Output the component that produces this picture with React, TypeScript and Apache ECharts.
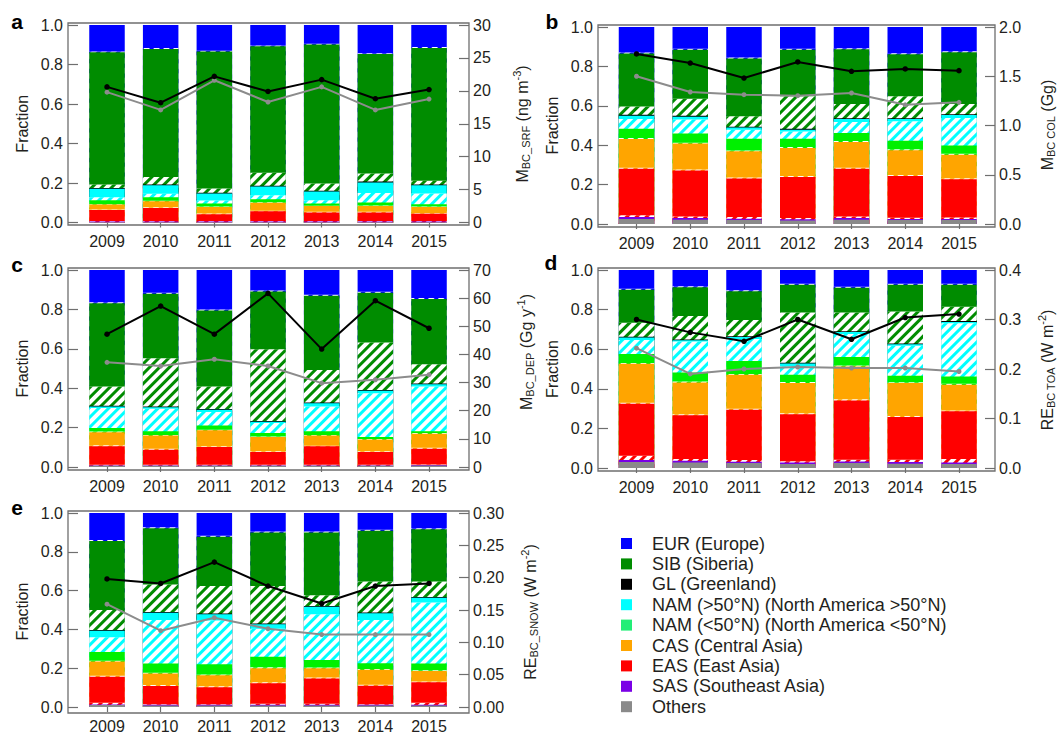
import React, { useEffect, useRef } from 'react';
import * as echarts from 'echarts';

const YEARS = ['2009', '2010', '2011', '2012', '2013', '2014', '2015'];

// Cumulative upper edge (fraction) of every source layer, bottom to top.
// _F = hatched part of a source region.
// ---- panel a ----
const A_OTH = [0.003, 0.003, 0.003, 0.003, 0.003, 0.003, 0.003];
const A_SAS = [0.005, 0.005, 0.005, 0.005, 0.005, 0.005, 0.005];
const A_EAS_F = [0.008, 0.008, 0.008, 0.008, 0.008, 0.008, 0.008];
const A_EAS = [0.063, 0.074, 0.042, 0.057, 0.051, 0.051, 0.044];
const A_CAS_F = [0.066, 0.077, 0.045, 0.06, 0.054, 0.054, 0.047];
const A_CAS = [0.091, 0.108, 0.079, 0.1, 0.083, 0.084, 0.079];
const A_NAMS_F = [0.093, 0.11, 0.081, 0.102, 0.085, 0.086, 0.081];
const A_NAMS = [0.113, 0.128, 0.096, 0.118, 0.096, 0.101, 0.093];
const A_NAMN_F = [0.128, 0.145, 0.112, 0.138, 0.113, 0.15, 0.147];
const A_NAMN = [0.171, 0.189, 0.147, 0.182, 0.157, 0.203, 0.189];
const A_GL = [0.175, 0.193, 0.151, 0.186, 0.161, 0.207, 0.193];
const A_SIB_F = [0.193, 0.231, 0.172, 0.252, 0.198, 0.248, 0.211];
const A_SIB = [0.862, 0.879, 0.866, 0.892, 0.901, 0.853, 0.884];
const A_EUR_F = [0.866, 0.883, 0.87, 0.896, 0.905, 0.857, 0.888];
const A_EUR = [1, 1, 1, 1, 1, 1, 1];
const A_TOTAL = [20.6, 18.2, 22.2, 19.9, 21.7, 18.8, 20.2];
const A_GREY = [19.8, 17.1, 21.6, 18.3, 20.6, 17.1, 18.75];

// ---- panel b ----
const B_OTH = [0.025, 0.022, 0.02, 0.018, 0.022, 0.02, 0.02];
const B_SAS = [0.035, 0.03, 0.027, 0.024, 0.03, 0.026, 0.026];
const B_EAS_F = [0.045, 0.038, 0.035, 0.03, 0.038, 0.032, 0.033];
const B_EAS = [0.281, 0.272, 0.231, 0.239, 0.281, 0.244, 0.227];
const B_CAS_F = [0.286, 0.277, 0.236, 0.244, 0.286, 0.249, 0.232];
const B_CAS = [0.432, 0.408, 0.369, 0.386, 0.416, 0.374, 0.352];
const B_NAMS_F = [0.437, 0.413, 0.373, 0.391, 0.421, 0.379, 0.357];
const B_NAMS = [0.483, 0.459, 0.433, 0.433, 0.462, 0.423, 0.399];
const B_NAMN_F = [0.533, 0.53, 0.479, 0.47, 0.518, 0.521, 0.538];
const B_NAMN = [0.55, 0.545, 0.49, 0.479, 0.533, 0.533, 0.553];
const B_GL = [0.554, 0.549, 0.494, 0.483, 0.537, 0.537, 0.557];
const B_SIB_F = [0.597, 0.636, 0.547, 0.648, 0.609, 0.648, 0.609];
const B_SIB = [0.865, 0.884, 0.84, 0.885, 0.887, 0.862, 0.872];
const B_EUR_F = [0.87, 0.889, 0.845, 0.89, 0.892, 0.867, 0.877];
const B_EUR = [1, 1, 1, 1, 1, 1, 1];
const B_TOTAL = [1.726, 1.634, 1.482, 1.645, 1.55, 1.574, 1.557];
const B_GREY = [1.5, 1.34, 1.313, 1.303, 1.33, 1.21, 1.235];

// ---- panel c ----
const C_OTH = [0.006, 0.006, 0.006, 0.006, 0.006, 0.006, 0.008];
const C_SAS = [0.008, 0.008, 0.008, 0.008, 0.008, 0.008, 0.01];
const C_EAS_F = [0.011, 0.011, 0.011, 0.011, 0.011, 0.011, 0.013];
const C_EAS = [0.105, 0.088, 0.101, 0.076, 0.105, 0.076, 0.093];
const C_CAS_F = [0.11, 0.093, 0.105, 0.08, 0.108, 0.08, 0.098];
const C_CAS = [0.177, 0.16, 0.186, 0.152, 0.16, 0.139, 0.169];
const C_NAMS_F = [0.18, 0.163, 0.189, 0.155, 0.163, 0.142, 0.172];
const C_NAMS = [0.198, 0.181, 0.211, 0.172, 0.181, 0.152, 0.181];
const C_NAMN_F = [0.299, 0.296, 0.279, 0.223, 0.307, 0.375, 0.409];
const C_NAMN = [0.307, 0.303, 0.29, 0.23, 0.324, 0.387, 0.42];
const C_GL = [0.311, 0.307, 0.294, 0.234, 0.328, 0.391, 0.424];
const C_SIB_F = [0.409, 0.552, 0.409, 0.598, 0.493, 0.632, 0.522];
const C_SIB = [0.831, 0.879, 0.794, 0.891, 0.869, 0.884, 0.853];
const C_EUR_F = [0.836, 0.884, 0.799, 0.896, 0.874, 0.889, 0.858];
const C_EUR = [1, 1, 1, 1, 1, 1, 1];
const C_TOTAL = [47.2, 57.2, 47.2, 61.7, 41.9, 59.1, 49.3];
const C_GREY = [37.2, 35.9, 38.3, 35.9, 29.8, 31.0, 32.8];

// ---- panel d ----
const D_OTH = [0.03, 0.028, 0.025, 0.02, 0.025, 0.022, 0.02];
const D_SAS = [0.04, 0.036, 0.032, 0.028, 0.033, 0.03, 0.028];
const D_EAS_F = [0.062, 0.045, 0.04, 0.034, 0.042, 0.042, 0.045];
const D_EAS = [0.324, 0.266, 0.294, 0.271, 0.341, 0.257, 0.286];
const D_CAS_F = [0.33, 0.272, 0.299, 0.277, 0.347, 0.263, 0.291];
const D_CAS = [0.526, 0.432, 0.471, 0.429, 0.513, 0.429, 0.42];
const D_NAMS_F = [0.53, 0.437, 0.475, 0.434, 0.518, 0.433, 0.425];
const D_NAMS = [0.576, 0.482, 0.541, 0.471, 0.56, 0.466, 0.462];
const D_NAMN_F = [0.647, 0.639, 0.652, 0.513, 0.677, 0.617, 0.731];
const D_NAMN = [0.659, 0.645, 0.662, 0.528, 0.687, 0.625, 0.738];
const D_GL = [0.663, 0.649, 0.666, 0.532, 0.691, 0.629, 0.742];
const D_SIB_F = [0.734, 0.768, 0.748, 0.785, 0.785, 0.79, 0.815];
const D_SIB = [0.9, 0.913, 0.893, 0.925, 0.91, 0.925, 0.925];
const D_EUR_F = [0.905, 0.918, 0.898, 0.93, 0.915, 0.93, 0.93];
const D_EUR = [1, 1, 1, 1, 1, 1, 1];
const D_TOTAL = [0.3, 0.274, 0.256, 0.3, 0.26, 0.304, 0.311];
const D_GREY = [0.242, 0.19, 0.2, 0.204, 0.202, 0.202, 0.195];

// ---- panel e ----
const E_OTH = [0.01, 0.008, 0.008, 0.008, 0.008, 0.008, 0.008];
const E_SAS = [0.013, 0.011, 0.011, 0.011, 0.011, 0.011, 0.011];
const E_EAS_F = [0.022, 0.014, 0.014, 0.017, 0.017, 0.014, 0.022];
const E_EAS = [0.156, 0.108, 0.102, 0.122, 0.147, 0.11, 0.127];
const E_CAS_F = [0.161, 0.113, 0.107, 0.127, 0.152, 0.115, 0.132];
const E_CAS = [0.234, 0.173, 0.164, 0.2, 0.2, 0.192, 0.186];
const E_NAMS_F = [0.238, 0.177, 0.168, 0.205, 0.204, 0.196, 0.19];
const E_NAMS = [0.283, 0.224, 0.22, 0.259, 0.242, 0.225, 0.224];
const E_NAMN_F = [0.359, 0.449, 0.446, 0.403, 0.478, 0.449, 0.539];
const E_NAMN = [0.393, 0.486, 0.478, 0.427, 0.517, 0.483, 0.563];
const E_GL = [0.397, 0.49, 0.482, 0.431, 0.521, 0.487, 0.567];
const E_SIB_F = [0.5, 0.631, 0.624, 0.624, 0.576, 0.647, 0.647];
const E_SIB = [0.856, 0.921, 0.878, 0.899, 0.9, 0.909, 0.916];
const E_EUR_F = [0.861, 0.926, 0.883, 0.904, 0.905, 0.914, 0.921];
const E_EUR = [1, 1, 1, 1, 1, 1, 1];
const E_TOTAL = [0.198, 0.191, 0.224, 0.187, 0.16, 0.187, 0.191];
const E_GREY = [0.159, 0.118, 0.138, 0.121, 0.112, 0.112, 0.112];

// right axes (tick labels)
const RIGHT_MAX = [30, 2, 70, 0.4, 0.3];
const RIGHT_STEP = [5, 0.5, 10, 0.1, 0.05];
const RIGHT_DEC = [0, 1, 0, 1, 2];

const LEGEND_NAMES = [
  'EUR (Europe)',
  'SIB (Siberia)',
  'GL (Greenland)',
  'NAM (>50°N) (North America >50°N)',
  'NAM (<50°N) (North America <50°N)',
  'CAS (Central Asia)',
  'EAS (East Asia)',
  'SAS (Southeast Asia)',
  'Others',
];

// ---- styling ----
const FONT = '"Liberation Sans", Arial, Helvetica, sans-serif';
const TXT = '#231f20';
const FRAME = '#6f6f6f';
const BLUE = '#0000ff';
const GREEN = '#008c00';
const CYAN = '#00ffff';
const LIME = '#00f000';
const ORANGE = '#ffa500';
const RED = '#ff0000';
const PURPLE = '#7a00e6';
const GREY = '#8a8a8a';
const LEGEND_COLORS = [BLUE, GREEN, '#000000', CYAN, '#22ee77', ORANGE, RED, PURPLE, GREY];

// draw order: top layer first (tallest bar), lower layers painted over it
const LAYER_STYLE = [
  { color: BLUE, hatch: false },
  { color: BLUE, hatch: true },
  { color: GREEN, hatch: false },
  { color: GREEN, hatch: true },
  { color: '#000000', hatch: false },
  { color: CYAN, hatch: false },
  { color: CYAN, hatch: true },
  { color: LIME, hatch: false },
  { color: LIME, hatch: true },
  { color: ORANGE, hatch: false },
  { color: ORANGE, hatch: true },
  { color: RED, hatch: false },
  { color: RED, hatch: true },
  { color: PURPLE, hatch: false },
  { color: GREY, hatch: false },
];

const LAYERS = [
  [A_EUR, A_EUR_F, A_SIB, A_SIB_F, A_GL, A_NAMN, A_NAMN_F, A_NAMS, A_NAMS_F, A_CAS, A_CAS_F, A_EAS, A_EAS_F, A_SAS, A_OTH],
  [B_EUR, B_EUR_F, B_SIB, B_SIB_F, B_GL, B_NAMN, B_NAMN_F, B_NAMS, B_NAMS_F, B_CAS, B_CAS_F, B_EAS, B_EAS_F, B_SAS, B_OTH],
  [C_EUR, C_EUR_F, C_SIB, C_SIB_F, C_GL, C_NAMN, C_NAMN_F, C_NAMS, C_NAMS_F, C_CAS, C_CAS_F, C_EAS, C_EAS_F, C_SAS, C_OTH],
  [D_EUR, D_EUR_F, D_SIB, D_SIB_F, D_GL, D_NAMN, D_NAMN_F, D_NAMS, D_NAMS_F, D_CAS, D_CAS_F, D_EAS, D_EAS_F, D_SAS, D_OTH],
  [E_EUR, E_EUR_F, E_SIB, E_SIB_F, E_GL, E_NAMN, E_NAMN_F, E_NAMS, E_NAMS_F, E_CAS, E_CAS_F, E_EAS, E_EAS_F, E_SAS, E_OTH],
];
const TOTALS = [A_TOTAL, B_TOTAL, C_TOTAL, D_TOTAL, E_TOTAL];
const GREYS = [A_GREY, B_GREY, C_GREY, D_GREY, E_GREY];

const PANELS = [
  { id: 'a', fl: 68, fr: 469, ft: 23, fb: 225, y1: 25, y0: 222.5, c0: 107, step: 53.67, lx: 17, ly: 21, fx: 22, nx: 522, ny: 124,
    name: '{m|M}{s|BC_SRF}{m| (ng m}{p|-3}{m|)}' },
  { id: 'b', fl: 598, fr: 995, ft: 25, fb: 227, y1: 27, y0: 224, c0: 636.5, step: 53.75, lx: 552, ly: 21, fx: 552, nx: 1047, ny: 125,
    name: '{m|M}{s|BC COL}{m| (Gg)}' },
  { id: 'c', fl: 68, fr: 469, ft: 268, fb: 470, y1: 270, y0: 467, c0: 107, step: 53.67, lx: 17, ly: 264, fx: 22, nx: 526, ny: 352,
    name: '{m|M}{s|BC_DEP}{m| (Gg y}{p|-1}{m|)}' },
  { id: 'd', fl: 598, fr: 995, ft: 268, fb: 471, y1: 270, y0: 468, c0: 636.5, step: 53.75, lx: 551, ly: 262, fx: 552, nx: 1047, ny: 370,
    name: '{m|RE}{s|BC TOA}{m| (W m}{p|-2}{m|)}' },
  { id: 'e', fl: 68, fr: 469, ft: 511, fb: 713, y1: 513, y0: 710, c0: 107, step: 53.67, lx: 17, ly: 507, fx: 22, nx: 530, ny: 612,
    name: '{m|RE}{s|BC_SNOW}{m| (W m}{p|-2}{m|)}' },
];

const RICH = {
  m: { fontSize: 16, fontFamily: FONT, fill: TXT, lineHeight: 20, verticalAlign: 'middle' },
  s: { fontSize: 11, fontFamily: FONT, fill: TXT, lineHeight: 12, padding: [8, 0, 0, 0], verticalAlign: 'middle' },
  p: { fontSize: 11, fontFamily: FONT, fill: TXT, lineHeight: 12, padding: [0, 0, 10, 0], verticalAlign: 'middle' },
};

function buildOption() {
  const grid: any[] = [];
  const xAxis: any[] = [];
  const yAxis: any[] = [];
  const series: any[] = [];
  const graphic: any[] = [];
  const tick = { lineStyle: { color: FRAME, width: 1.2 } };
  const label = { fontSize: 16, fontFamily: FONT, color: TXT };

  PANELS.forEach((P, i) => {
    const gl = P.c0 - P.step / 2;
    const gw = P.step * 7;
    grid.push({ left: gl, top: P.y1, width: gw, height: P.y0 - P.y1, containLabel: false });
    xAxis.push({
      type: 'category', gridIndex: i, data: YEARS, position: 'bottom', offset: P.fb - P.y0,
      axisLine: { show: false },
      axisTick: { show: true, inside: true, alignWithLabel: true, length: 5, ...tick },
      axisLabel: { ...label, margin: 8 },
    });
    xAxis.push({
      type: 'category', gridIndex: i, data: YEARS, position: 'top', offset: P.y1 - P.ft,
      axisLine: { show: false },
      axisTick: { show: true, inside: true, alignWithLabel: true, length: 5, ...tick },
      axisLabel: { show: false },
    });
    yAxis.push({
      type: 'value', gridIndex: i, min: 0, max: 1, interval: 0.2, position: 'left', offset: gl - P.fl,
      axisLine: { show: false }, splitLine: { show: false },
      axisTick: { show: true, inside: true, length: 10, ...tick },
      axisLabel: { ...label, margin: 5, formatter: (v: number) => v.toFixed(1) },
    });
    yAxis.push({
      type: 'value', gridIndex: i, min: 0, max: RIGHT_MAX[i], interval: RIGHT_STEP[i], position: 'right',
      offset: P.fr - (gl + gw),
      axisLine: { show: false }, splitLine: { show: false },
      axisTick: { show: true, inside: true, length: 10, ...tick },
      axisLabel: { ...label, margin: 4, formatter: (v: number) => v.toFixed(RIGHT_DEC[i]) },
    });

    LAYERS[i].forEach((vals, li) => {
      const L = LAYER_STYLE[li];
      series.push({
        type: 'bar', xAxisIndex: i * 2, yAxisIndex: i * 2, data: vals,
        barWidth: 35.5, barGap: '-100%', silent: true, z: 2,
        itemStyle: L.hatch
          ? { color: '#ffffff', decal: { symbol: 'rect', color: L.color, dashArrayX: [1, 0], dashArrayY: [3, 4], rotation: -Math.PI / 4, symbolSize: 1 } }
          : { color: L.color },
      });
    });
    series.push({
      type: 'line', xAxisIndex: i * 2, yAxisIndex: i * 2 + 1, data: GREYS[i], z: 5, silent: true,
      symbol: 'circle', symbolSize: 5, itemStyle: { color: '#8c8c8c' }, lineStyle: { color: '#8c8c8c', width: 2 },
    });
    series.push({
      type: 'line', xAxisIndex: i * 2, yAxisIndex: i * 2 + 1, data: TOTALS[i], z: 6, silent: true,
      symbol: 'circle', symbolSize: 5.5, itemStyle: { color: '#000000' }, lineStyle: { color: '#000000', width: 2 },
    });

    graphic.push({
      type: 'rect', silent: true, z: 20,
      shape: { x: P.fl, y: P.ft, width: P.fr - P.fl, height: P.fb - P.ft },
      style: { fill: 'none', stroke: FRAME, lineWidth: 1.3 },
    });
    graphic.push({
      type: 'text', x: P.lx, y: P.ly, silent: true, z: 20,
      style: { text: P.id, fontSize: 21, fontWeight: 'bold', fontFamily: FONT, fill: '#000', align: 'center', verticalAlign: 'middle' },
    });
    graphic.push({
      type: 'text', x: P.fx, y: (P.y0 + P.y1) / 2, rotation: Math.PI / 2, silent: true, z: 20,
      style: { text: 'Fraction', fontSize: 16, fontFamily: FONT, fill: TXT, align: 'center', verticalAlign: 'middle' },
    });
    graphic.push({
      type: 'text', x: P.nx, y: P.ny, rotation: Math.PI / 2, silent: true, z: 20,
      style: { text: P.name, rich: RICH, fontSize: 16, fontFamily: FONT, fill: TXT, align: 'center', verticalAlign: 'middle' },
    });
  });

  LEGEND_NAMES.forEach((n, k) => {
    const y = 543.5 + k * 20.4;
    graphic.push({ type: 'rect', silent: true, shape: { x: 621, y: y - 5.5, width: 11, height: 11 }, style: { fill: LEGEND_COLORS[k] } });
    graphic.push({
      type: 'text', x: 652, y, silent: true,
      style: { text: n, fontSize: 18, fontFamily: FONT, fill: TXT, align: 'left', verticalAlign: 'middle' },
    });
  });

  return { animation: false, backgroundColor: '#ffffff', grid, xAxis, yAxis, series, graphic };
}

export default function App() {
  const ref = useRef<HTMLDivElement>(null);
  useEffect(() => {
    if (!ref.current) return;
    const chart = echarts.init(ref.current, undefined, { renderer: 'svg' });
    chart.setOption(buildOption() as any);
    return () => chart.dispose();
  }, []);
  return (
    <div
      ref={ref}
      style={{ position: 'fixed', left: 0, top: 0, width: 1062, height: 734, background: '#fff' }}
    />
  );
}
